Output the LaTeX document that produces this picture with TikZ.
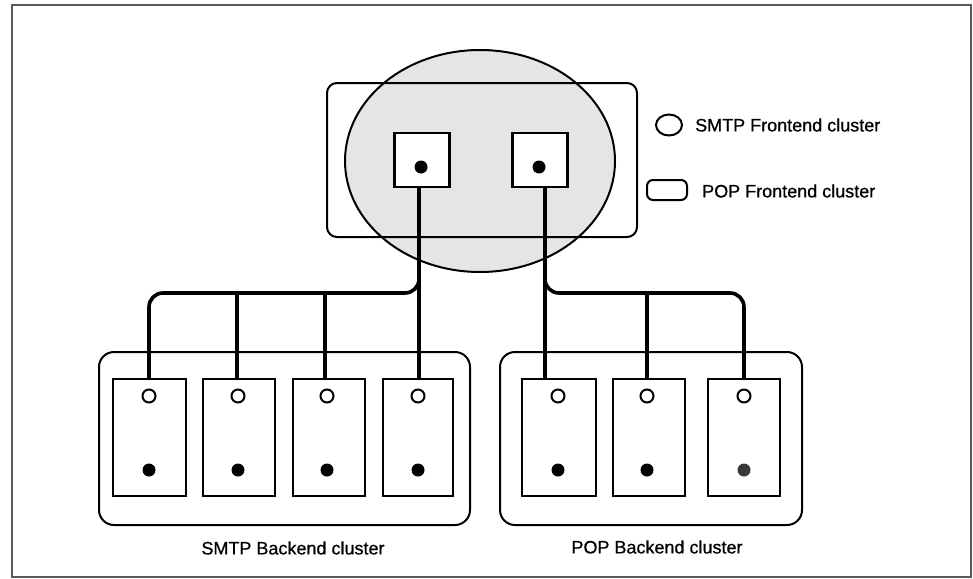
\documentclass[tikz,border=0pt]{standalone}
\usepackage{fontspec}
\newfontfamily\lab[BoldFont={Liberation Sans}, BoldFeatures={FakeBold=0.6}]{Liberation Sans}
\usetikzlibrary{shapes.geometric,calc}
\tikzset{
  box/.style={draw=black, line width=2.3pt, fill=white, minimum width=#1, minimum height=117pt, inner sep=0pt, outer sep=0pt},
  sq/.style={draw=black, line width=2.3pt, fill=white, minimum width=55pt, minimum height=54pt, inner sep=0pt, outer sep=0pt},
  cluster/.style={draw=black, line width=2pt, rounded corners=15pt, inner sep=0pt, outer sep=0pt},
  conn/.style={draw=black, line width=3.6pt},
  dot/.style={circle, fill=black, minimum size=13pt, inner sep=0pt},
  hole/.style={circle, draw=black, line width=2pt, fill=white, minimum size=13pt, inner sep=0pt},
  txt/.style={font=\lab\bfseries\fontsize{18}{21}\selectfont, inner sep=0pt}
}
\begin{document}
\begin{tikzpicture}[x=1pt,y=-1pt]
\useasboundingbox (0,0) rectangle (973,578);
\fill[white] (0,0) rectangle (973,578);
% outer frame
\draw[gray!70!black, line width=1.5pt] (12,5) rectangle (971,577);

% SMTP frontend ellipse (filled) and POP frontend rectangle
\node[ellipse, fill=gray!20, minimum width=270pt, minimum height=222pt, inner sep=0pt] (smtpfe) at (480,161) {};
\node[draw=black, line width=2pt, rounded corners=10pt, minimum width=310pt, minimum height=154pt, inner sep=0pt] (popfe) at (482,160) {};
\node[ellipse, draw=black, line width=2pt, minimum width=270pt, minimum height=222pt, inner sep=0pt] (smtpfe2) at (480,161) {};

% frontend servers
\node[sq] (fs1) at (422,160) {};
\node[sq] (fs2) at (540,160) {};
\node[dot] (fd1) at (421,167) {};
\node[dot] (fd2) at (539,167) {};

% backend clusters
\node[cluster, minimum width=371pt, minimum height=173pt] (smtpbe) at (284.5,438.5) {};
\node[cluster, minimum width=302pt, minimum height=173pt] (popbe) at (651,438.5) {};

% SMTP backend servers
\node[box=73pt] (b1) at (149.5,437.5) {};
\node[box=72pt] (b2) at (239,437.5) {};
\node[box=72pt] (b3) at (329,437.5) {};
\node[box=70pt] (b4) at (418,437.5) {};
% POP backend servers
\node[box=74pt] (p1) at (559,437.5) {};
\node[box=72pt] (p2) at (649,437.5) {};
\node[box=72pt] (p3) at (744,437.5) {};

\foreach \n/\x in {b1/149,b2/238,b3/327,b4/418,p1/558,p2/647,p3/744}{
  \node[hole] (\n h) at (\x,396) {};
}
\foreach \n/\x in {b1/149,b2/238,b3/327,b4/418,p1/558,p2/647}{
  \node[dot] (\n d) at (\x,470) {};
}
\node[dot, fill=gray!45!black] (p3d) at (744,470) {};

% connectors
\coordinate (bus) at (0,293);
\coordinate (jL) at (419,268);
\coordinate (jR) at (545,268);
\draw[conn] (fs1.south -| jL) -- (jL |- b4.north);
\draw[conn] (fs2.south -| jR) -- (jR |- p1.north);
\draw[conn, rounded corners=14pt] (b1.north -| 149,0) |- (jL |- bus) -- (jL);
\draw[conn] (b2.north -| 237,0) -- (237,293);
\draw[conn] (b3.north -| 325,0) -- (325,293);
\draw[conn, rounded corners=14pt] (jR) -- (jR |- bus) -| (p3.north);
\draw[conn] (p2.north -| 647,0) -- (647,293);

% legend
\node[ellipse, draw=black, line width=2pt, minimum width=26pt, minimum height=21pt, inner sep=0pt] (lgE) at (669,125) {};
\node[txt, anchor=west] (lgEt) at (695,125) {SMTP Frontend cluster};
\node[draw=black, line width=2pt, rounded corners=6pt, minimum width=40pt, minimum height=20pt, inner sep=0pt] (lgR) at (667,190) {};
\node[txt, anchor=west] (lgRt) at (702,191) {POP Frontend cluster};

% cluster labels
\node[txt] (smtpbel) at (293,548) {SMTP Backend cluster};
\node[txt] (popbel) at (657,547) {POP Backend cluster};
\end{tikzpicture}
\end{document}
